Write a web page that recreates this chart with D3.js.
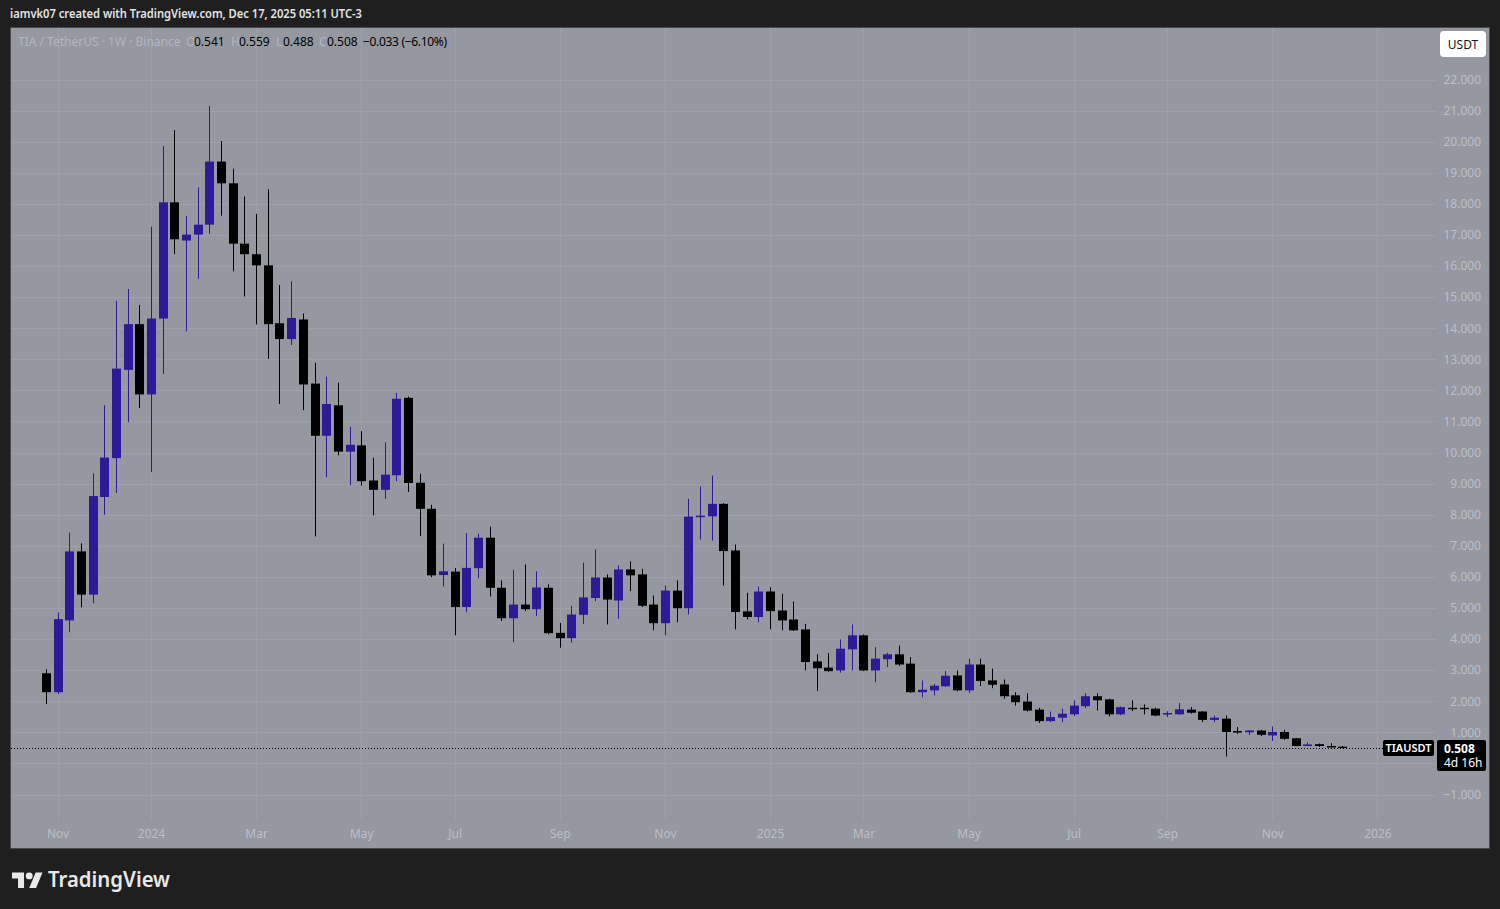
<!DOCTYPE html>
<html>
<head>
<meta charset="utf-8">
<script src="https://cdn.jsdelivr.net/npm/d3@7"></script>
<style>
    body { margin: 0; background: #1f1f1f; }
    svg { display: block; }
    text { font-family: "Noto Sans", Roboto, sans-serif; }
</style>
</head>
<body>
<script>
//weekly candles, TIA / TetherUS, first bar week of 30 Oct 2023, last bar week of 15 Dec 2025
var opens = [2.90, 2.29, 4.60, 6.82, 5.43, 8.57, 9.82, 12.66, 14.13, 11.87,
    14.31, 18.05, 16.82, 17.01, 17.33, 19.36, 18.66, 16.72, 16.38, 16.02,
    14.16, 13.65, 14.28, 12.22, 10.54, 11.52, 10.03, 10.23, 9.10, 8.80,
    9.27, 11.76, 9.03, 8.19, 6.06, 6.17, 5.03, 6.28, 7.26, 5.65,
    4.67, 5.11, 4.96, 5.65, 4.20, 4.03, 4.78, 5.32, 5.98, 5.24,
    6.24, 6.08, 5.11, 4.51, 5.56, 4.99, 7.92, 7.95, 8.35, 6.85,
    4.89, 4.71, 5.53, 4.92, 4.63, 4.31, 3.28, 3.08, 2.99, 3.67,
    4.12, 2.99, 3.35, 3.51, 3.21, 2.29, 2.35, 2.48, 2.83, 2.35,
    3.18, 2.67, 2.54, 2.19, 1.99, 1.73, 1.36, 1.47, 1.58, 1.84,
    2.16, 2.06, 1.58, 1.79, 1.79, 1.76, 1.58, 1.58, 1.73, 1.67,
    1.40, 1.44, 1.04, 1.00, 1.06, 0.90, 1.01, 0.81, 0.58, 0.62,
    0.56, 0.541];
var highs = [3.03, 4.86, 7.43, 7.08, 9.33, 11.52, 14.88, 15.26, 14.75, 17.27,
    19.86, 20.37, 17.61, 18.53, 21.15, 20.02, 19.13, 18.24, 17.68, 18.47,
    15.39, 15.51, 14.47, 12.89, 12.44, 12.25, 10.83, 10.69, 9.83, 10.33,
    11.92, 11.80, 9.32, 8.32, 7.07, 6.29, 7.41, 7.39, 7.62, 5.89,
    6.23, 6.40, 6.18, 5.76, 4.52, 5.07, 6.46, 6.88, 6.08, 6.37,
    6.50, 6.26, 5.40, 5.72, 5.89, 8.51, 8.91, 9.26, 8.37, 7.04,
    5.49, 5.69, 5.67, 5.46, 5.21, 4.49, 3.51, 3.55, 3.99, 4.47,
    4.15, 3.74, 3.56, 3.79, 3.42, 2.67, 2.56, 2.97, 2.99, 3.37,
    3.37, 3.05, 2.70, 2.29, 2.26, 1.79, 1.67, 1.76, 2.03, 2.26,
    2.26, 2.08, 1.83, 2.03, 1.90, 1.79, 1.68, 1.94, 1.81, 1.68,
    1.54, 1.54, 1.17, 1.07, 1.07, 1.19, 1.08, 0.82, 0.67, 0.64,
    0.65, 0.559];
var lows = [1.91, 2.23, 4.22, 5.02, 5.15, 8.00, 8.70, 10.98, 11.43, 9.37,
    12.53, 16.38, 13.90, 15.59, 17.04, 17.62, 15.83, 15.02, 14.12, 13.01,
    11.56, 13.46, 11.36, 7.30, 9.21, 9.91, 8.95, 8.94, 7.98, 8.51,
    9.08, 8.73, 7.31, 5.99, 5.69, 4.12, 4.87, 5.96, 5.37, 4.58,
    3.90, 4.90, 4.74, 4.15, 3.72, 3.88, 4.49, 5.22, 4.47, 4.65,
    5.54, 5.03, 4.28, 4.12, 4.54, 4.79, 7.20, 7.17, 5.72, 4.31,
    4.63, 4.54, 4.31, 4.28, 4.26, 2.99, 2.33, 2.94, 2.92, 2.99,
    2.97, 2.61, 3.10, 3.13, 2.27, 2.13, 2.19, 2.46, 2.32, 2.27,
    2.49, 2.42, 2.08, 1.86, 1.67, 1.30, 1.33, 1.33, 1.52, 1.78,
    1.70, 1.51, 1.55, 1.68, 1.58, 1.52, 1.49, 1.56, 1.60, 1.33,
    1.33, 0.22, 0.95, 0.91, 0.88, 0.72, 0.76, 0.55, 0.57, 0.53,
    0.51, 0.488];
var closes = [2.29, 4.64, 6.82, 5.43, 8.60, 9.84, 12.70, 14.13, 11.87, 14.31,
    18.05, 16.86, 17.01, 17.33, 19.36, 18.66, 16.72, 16.38, 16.02, 14.13,
    13.65, 14.33, 12.19, 10.54, 11.56, 10.03, 10.25, 9.08, 8.80, 9.29,
    11.73, 9.02, 8.19, 6.05, 6.18, 5.03, 6.29, 7.26, 5.65, 4.67,
    5.11, 4.96, 5.66, 4.19, 4.03, 4.79, 5.34, 5.98, 5.27, 6.24,
    6.05, 5.07, 4.51, 5.56, 4.99, 7.94, 7.97, 8.35, 6.83, 4.87,
    4.71, 5.53, 4.90, 4.60, 4.28, 3.26, 3.06, 2.97, 3.69, 4.12,
    2.99, 3.37, 3.51, 3.18, 2.29, 2.37, 2.50, 2.82, 2.35, 3.18,
    2.65, 2.53, 2.16, 1.97, 1.70, 1.36, 1.49, 1.60, 1.86, 2.16,
    2.03, 1.58, 1.81, 1.76, 1.75, 1.54, 1.62, 1.74, 1.63, 1.40,
    1.47, 1.01, 1.00, 1.06, 0.92, 1.01, 0.79, 0.56, 0.61, 0.56,
    0.541, 0.508];

//time axis: first bar of each labelled month
var timeTickDates = ["2023-11-06", "2024-01-01", "2024-03-04", "2024-05-06", "2024-07-01",
    "2024-09-02", "2024-11-04", "2025-01-06", "2025-03-03", "2025-05-05",
    "2025-07-07", "2025-09-01", "2025-11-03", "2026-01-05"];
var timeTickLabels = ["Nov", "2024", "Mar", "May", "Jul", "Sep", "Nov",
    "2025", "Mar", "May", "Jul", "Sep", "Nov", "2026"];

//price axis ticks (0.000 sits under the price tag, so no label is shown for it)
var priceTicks = [-1, 0, 1, 2, 3, 4, 5, 6, 7, 8, 9, 10, 11, 12, 13, 14, 15,
    16, 17, 18, 19, 20, 21, 22];
var hiddenPriceLabels = [0];

var lastPrice = 0.508;

function drawChart(){
    var width = 1500,
        height = 909;

    var upColor = "#2d1a96",
        downColor = "#000000",
        paneColor = "#9598a1",
        gridColor = "#9ea1aa",
        axisText = "#bcbfc7";

    var svg = d3.select("body")
        .append("svg")
        .attr("width", width)
        .attr("height", height);

    //dark page background
    svg.append("rect")
        .attr("width", width)
        .attr("height", height)
        .attr("fill", "#1f1f1f");

    //header line
    svg.append("text")
        .attr("x", 10)
        .attr("y", 18)
        .attr("fill", "#e3e3e3")
        .attr("font-size", 13)
        .attr("font-weight", 600)
        .attr("textLength", 352)
        .attr("lengthAdjust", "spacingAndGlyphs")
        .text("iamvk07 created with TradingView.com, Dec 17, 2025 05:11 UTC-3");

    //chart pane
    svg.append("rect")
        .attr("x", 10.5)
        .attr("y", 27.5)
        .attr("width", 1479)
        .attr("height", 821)
        .attr("fill", paneColor)
        .attr("stroke", "#4a4a4a");

    //scales
    var x = d3.scaleUtc()
        .domain([new Date(Date.UTC(2024, 0, 1)), new Date(Date.UTC(2026, 0, 5))])
        .range([151, 1377.4]);

    var y = d3.scaleLinear()
        .domain([-1, 22])
        .range([794.5, 79.5]);

    //weekly bars
    var weeks = d3.utcMonday.range(new Date(Date.UTC(2023, 9, 30)), new Date(Date.UTC(2025, 11, 16)));
    var bars = weeks.map(function(d, i){
        return {date: d, o: opens[i], h: highs[i], l: lows[i], c: closes[i]};
    });

    var tickDates = timeTickDates.map(function(s){ return new Date(s + "T00:00:00Z"); });

    //grid lines
    svg.append("g")
        .selectAll("line")
        .data(priceTicks)
        .enter()
        .append("line")
        .attr("x1", 11)
        .attr("x2", 1437)
        .attr("y1", function(d){ return Math.round(y(d)) + 0.5; })
        .attr("y2", function(d){ return Math.round(y(d)) + 0.5; })
        .attr("stroke", gridColor);

    svg.append("g")
        .selectAll("line")
        .data(tickDates)
        .enter()
        .append("line")
        .attr("x1", function(d){ return Math.round(x(d)) + 0.5; })
        .attr("x2", function(d){ return Math.round(x(d)) + 0.5; })
        .attr("y1", 28)
        .attr("y2", 820)
        .attr("stroke", gridColor);

    //time axis
    var xAxis = d3.axisBottom(x)
        .tickValues(tickDates)
        .tickSize(0)
        .tickPadding(0)
        .tickFormat(function(d, i){ return timeTickLabels[i]; });

    var gx = svg.append("g")
        .attr("transform", "translate(0,829)")
        .call(xAxis);
    gx.select(".domain").remove();
    gx.selectAll("text")
        .attr("fill", axisText)
        .attr("font-size", 12)
        .attr("font-family", "'Noto Sans', Roboto, sans-serif");

    //price axis
    var fmt = d3.format(".3f");
    var yAxis = d3.axisRight(y)
        .tickValues(priceTicks)
        .tickSize(0)
        .tickPadding(0)
        .tickFormat(function(d){ return hiddenPriceLabels.indexOf(d) >= 0 ? "" : fmt(d); });

    var gy = svg.append("g")
        .attr("transform", "translate(1481,0)")
        .call(yAxis);
    gy.select(".domain").remove();
    gy.selectAll("text")
        .attr("fill", axisText)
        .attr("font-size", 12)
        .attr("font-family", "'Noto Sans', Roboto, sans-serif")
        .attr("text-anchor", "end");

    //candles
    var candles = svg.append("g")
        .selectAll("g")
        .data(bars)
        .enter()
        .append("g");

    candles.append("line")
        .attr("x1", function(d){ return Math.round(x(d.date)) + 0.5; })
        .attr("x2", function(d){ return Math.round(x(d.date)) + 0.5; })
        .attr("y1", function(d){ return y(d.h); })
        .attr("y2", function(d){ return y(d.l); })
        .attr("stroke", function(d){ return d.c >= d.o ? upColor : downColor; })
        .attr("stroke-width", 1);

    candles.append("rect")
        .attr("x", function(d){ return Math.round(x(d.date)) - 4; })
        .attr("width", 9)
        .attr("y", function(d){ return y(Math.max(d.o, d.c)); })
        .attr("height", function(d){ return Math.max(1.5, Math.abs(y(d.o) - y(d.c))); })
        .attr("fill", function(d){ return d.c >= d.o ? upColor : downColor; });

    //last price dotted line
    svg.append("line")
        .attr("x1", 11)
        .attr("x2", 1383)
        .attr("y1", Math.round(y(lastPrice)) + 0.5)
        .attr("y2", Math.round(y(lastPrice)) + 0.5)
        .attr("stroke", "#000")
        .attr("stroke-dasharray", "1,2");

    //symbol tag and price tag
    var py = Math.round(y(lastPrice));
    svg.append("rect")
        .attr("x", 1383)
        .attr("y", py - 8)
        .attr("width", 51)
        .attr("height", 16)
        .attr("rx", 2)
        .attr("fill", "#000");
    svg.append("text")
        .attr("x", 1408.5)
        .attr("y", py + 4)
        .attr("text-anchor", "middle")
        .attr("fill", "#fff")
        .attr("font-size", 11)
        .attr("font-weight", 600)
        .text("TIAUSDT");

    svg.append("rect")
        .attr("x", 1437)
        .attr("y", py - 8)
        .attr("width", 49)
        .attr("height", 31)
        .attr("rx", 2)
        .attr("fill", "#000");
    svg.append("text")
        .attr("x", 1444)
        .attr("y", py + 5)
        .attr("fill", "#fff")
        .attr("font-size", 12)
        .attr("font-weight", 700)
        .text(fmt(lastPrice));
    svg.append("text")
        .attr("x", 1444)
        .attr("y", py + 19)
        .attr("fill", "#fff")
        .attr("font-size", 12)
        .text("4d 16h");

    //currency button
    svg.append("rect")
        .attr("x", 1440)
        .attr("y", 31)
        .attr("width", 46)
        .attr("height", 26)
        .attr("rx", 4)
        .attr("fill", "#fff");
    svg.append("text")
        .attr("x", 1463)
        .attr("y", 48.5)
        .attr("text-anchor", "middle")
        .attr("fill", "#131722")
        .attr("font-size", 12)
        .text("USDT");

    //legend
    var legend = [
        {x: 18, t: "TIA / TetherUS \u00b7 1W \u00b7 Binance", faint: true},
        {x: 186, t: "O", faint: true}, {x: 194, t: "0.541"},
        {x: 231, t: "H", faint: true}, {x: 239, t: "0.559"},
        {x: 276, t: "L", faint: true}, {x: 283, t: "0.488"},
        {x: 319, t: "C", faint: true}, {x: 327, t: "0.508"},
        {x: 363, t: "\u22120.033 (\u22126.10%)"}
    ];
    svg.append("g")
        .selectAll("text")
        .data(legend)
        .enter()
        .append("text")
        .attr("x", function(d){ return d.x; })
        .attr("y", 46)
        .attr("font-size", 12)
        .attr("fill", function(d){ return d.faint ? "#b3b6be" : "#000"; })
        .attr("textLength", function(d){ return d.x === 363 ? 84 : null; })
        .text(function(d){ return d.t; });

    //TradingView logo
    var logo = svg.append("g")
        .attr("transform", "translate(12,869) scale(0.86)")
        .attr("fill", "#e8e8e8");
    logo.append("path")
        .attr("d", "M14 22H7V11H0V4h14v18z M28 22h-8l7.5-18h8L28 22z");
    logo.append("circle")
        .attr("cx", 20)
        .attr("cy", 8)
        .attr("r", 4);

    svg.append("text")
        .attr("x", 48)
        .attr("y", 887)
        .attr("fill", "#e8e8e8")
        .attr("font-size", 21)
        .attr("font-weight", 600)
        .attr("font-family", "Inter, 'Noto Sans', sans-serif")
        .attr("textLength", 122)
        .attr("lengthAdjust", "spacingAndGlyphs")
        .text("TradingView");
}

window.onload = drawChart();
</script>
</body>
</html>
